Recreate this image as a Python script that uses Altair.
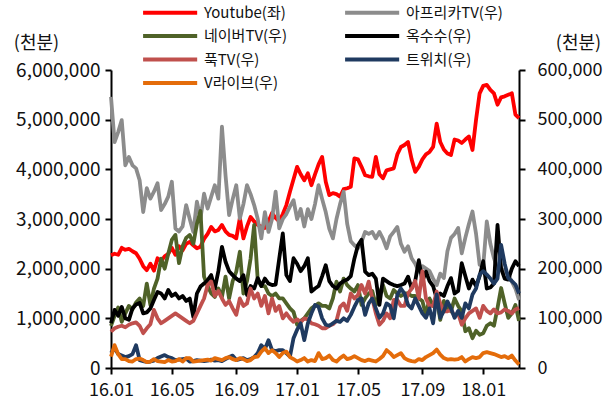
import altair as alt
import pandas as pd

FONT = "Noto Sans CJK KR"

# x-axis ticks (weekly index) and their labels
tick_weeks = [0, 17, 35, 52, 69, 87, 104]
tick_labels = ["16.01", "16.05", "16.09", "17.01", "17.05", "17.09", "18.01"]

series_names = ["Youtube(좌)", "아프리카TV(우)", "네이버TV(우)", "옥수수(우)",
                "푹TV(우)", "트위치(우)", "V라이브(우)"]
series_colors = ["#FF0000", "#8C8C8C", "#4F6228", "#000000",
                 "#C0504D", "#1F3A60", "#E46C0A"]

# legend fills column by column: left column first, then right column
legend_order = ["Youtube(좌)", "네이버TV(우)", "푹TV(우)", "V라이브(우)",
                "아프리카TV(우)", "옥수수(우)", "트위치(우)"]
legend_colors = [series_colors[series_names.index(n)] for n in legend_order]

# weekly viewing time, in thousands of 천분
youtube = [
    2270, 2300, 2280, 2420, 2380, 2400, 2350, 2310, 2200, 2050,
    1970, 2100, 1960, 2210, 2150, 2250, 2300, 2420, 2280, 2450,
    2370, 2500, 2540, 2470, 2410, 2440, 2600, 2700, 2840, 2750,
    2780, 2880, 2750, 2680, 2660, 2610, 3020, 2610, 2850, 3040,
    2950, 2880, 2850, 2820, 2950, 3120, 3020, 2950, 3100, 3280,
    3550, 3800, 4050, 3900, 3780, 3920, 3680, 3900, 4100, 4250,
    3750, 3480, 3520, 3500, 3450, 3600, 3620, 3650, 4220, 4200,
    4050, 3880, 3860, 3850, 4250, 3900, 3820, 3980, 4000, 4020,
    4300, 4450, 4490, 4550, 4200, 3950, 4050, 4200, 4300, 4350,
    4450, 4920, 4550, 4400, 4320, 4290, 4600, 4580, 4530, 4600,
    4660, 4390, 5000, 5530, 5680, 5700, 5600, 5530, 5300, 5450,
    5470, 5500, 5530, 5100, 5030,
]
afreecatv = [
    546, 455, 475, 499, 408, 425, 408, 402, 378, 314,
    362, 341, 355, 372, 318, 330, 345, 375, 281, 275,
    285, 328, 300, 274, 335, 301, 351, 321, 345, 368,
    341, 486, 388, 308, 340, 368, 301, 330, 368, 350,
    328, 300, 261, 314, 274, 300, 355, 281, 300, 310,
    325, 338, 300, 320, 285, 320, 300, 330, 368, 340,
    314, 280, 261, 300, 330, 355, 290, 255, 247, 241,
    254, 274, 270, 274, 261, 274, 260, 241, 265, 274,
    284, 250, 234, 245, 221, 210, 194, 205, 200, 195,
    180, 167, 190, 181, 235, 262, 270, 282, 231, 262,
    290, 315, 270, 208, 205, 295, 250, 221, 200, 200,
    195, 188, 174, 160, 137,
]
navertv = [
    85, 105, 122, 93, 110, 125, 118, 132, 140, 125,
    170, 127, 160, 180, 220, 200, 230, 258, 268, 211,
    245, 262, 268, 250, 290, 316, 184, 165, 150, 143,
    160, 143, 184, 140, 175, 194, 234, 150, 175, 220,
    288, 177, 165, 165, 150, 145, 150, 140, 140, 130,
    120, 113, 87, 95, 100, 110, 120, 125, 130, 125,
    125, 120, 140, 174, 154, 180, 167, 160, 154, 167,
    127, 140, 150, 155, 127, 150, 167, 145, 140, 157,
    150, 145, 150, 150, 145, 145, 140, 135, 107, 140,
    125, 140, 97, 135, 120, 114, 140, 125, 114, 74,
    80, 60, 75, 67, 70, 85, 90, 85, 121, 161,
    130, 101, 110, 127, 95,
]
oksusu = [
    90, 117, 105, 123, 100, 97, 120, 128, 131, 110,
    112, 120, 137, 153, 150, 140, 157, 145, 150, 140,
    145, 135, 140, 103, 150, 164, 170, 177, 187, 160,
    195, 244, 214, 195, 187, 180, 175, 187, 147, 165,
    160, 181, 165, 180, 170, 167, 168, 220, 271, 187,
    175, 221, 210, 195, 205, 221, 154, 160, 165, 185,
    207, 175, 165, 160, 170, 175, 178, 185, 220, 247,
    258, 194, 187, 190, 180, 127, 180, 175, 170, 167,
    165, 167, 170, 184, 160, 175, 217, 175, 194, 175,
    165, 140, 150, 145, 165, 181, 150, 155, 211, 185,
    160, 178, 165, 185, 215, 160, 162, 170, 288, 200,
    180, 178, 200, 215, 205,
]
pooqtv = [
    73, 80, 83, 85, 82, 87, 90, 92, 85, 70,
    80, 88, 117, 100, 90, 95, 100, 105, 110, 105,
    100, 95, 90, 95, 110, 125, 140, 167, 174, 145,
    155, 140, 127, 135, 120, 107, 140, 125, 130, 160,
    140, 150, 125, 145, 110, 140, 115, 125, 100, 110,
    100, 93, 98, 92, 100, 98, 90, 88, 85, 80,
    80, 85, 88, 95, 123, 130, 115, 150, 140, 147,
    167, 150, 174, 140, 110, 87, 95, 110, 100, 137,
    137, 125, 125, 150, 160, 175, 140, 195, 140, 125,
    125, 154, 130, 114, 114, 118, 104, 110, 87, 100,
    110, 115, 120, 101, 125, 115, 110, 118, 110, 112,
    118, 115, 110, 118, 121,
]
twitch = [
    30, 40, 28, 25, 22, 24, 28, 46, 16, 14,
    12, 13, 15, 20, 23, 26, 22, 20, 16, 17,
    18, 19, 13, 14, 16, 15, 14, 15, 17, 15,
    16, 14, 18, 22, 25, 16, 18, 20, 16, 18,
    22, 30, 46, 38, 56, 36, 34, 36, 36, 30,
    23, 60, 77, 90, 56, 90, 110, 127, 123, 100,
    87, 85, 90, 95, 93, 100, 95, 107, 123, 137,
    140, 107, 130, 140, 120, 101, 110, 130, 125, 100,
    147, 160, 150, 127, 120, 140, 125, 110, 101, 120,
    90, 148, 101, 115, 134, 120, 101, 115, 101, 130,
    120, 148, 160, 188, 195, 188, 180, 170, 180, 248,
    210, 181, 175, 168, 150,
]
vlive = [
    23, 46, 28, 18, 18, 14, 13, 18, 19, 16,
    12, 13, 18, 14, 13, 12, 16, 13, 14, 18,
    13, 20, 20, 13, 14, 15, 16, 17, 15, 20,
    18, 16, 20, 22, 18, 16, 20, 18, 14, 16,
    22, 23, 33, 40, 30, 36, 30, 22, 30, 33,
    22, 18, 13, 16, 20, 13, 16, 14, 30, 18,
    20, 25, 16, 13, 20, 25, 18, 20, 24, 20,
    16, 14, 17, 15, 13, 18, 24, 36, 30, 22,
    26, 30, 20, 16, 14, 13, 18, 16, 22, 26,
    30, 37, 27, 20, 17, 18, 17, 18, 22, 13,
    18, 22, 20, 22, 30, 32, 30, 28, 25, 22,
    24, 20, 25, 15, 7,
]

all_series = [youtube, afreecatv, navertv, oksusu, pooqtv, twitch, vlive]

rows = []
for name, vals in zip(series_names, all_series):
    for week, v in enumerate(vals):
        rows.append({"week": week, "series": name, "value": v * 1000})
df = pd.DataFrame(rows)

last_week = len(youtube) - 1
LW = 3.8

label_expr = f"{tick_labels}[indexof({tick_weeks}, datum.value)]"

x_enc = alt.X(
    "week:Q",
    scale=alt.Scale(domain=[0, last_week], nice=False, zero=False),
    axis=alt.Axis(values=tick_weeks, labelExpr=label_expr, title=None,
                  labelPadding=7, labelOverlap=False, labelFlush=False,
                  labelFontSize=18),
)

color_enc = alt.Color(
    "series:N",
    scale=alt.Scale(domain=legend_order, range=legend_colors),
    legend=alt.Legend(
        title=None, orient="none", legendX=30, legendY=-65, columns=2,
        columnPadding=50, rowPadding=6.5, padding=0,
        symbolType="M-1,0H9", symbolSize=117, symbolStrokeWidth=4,
        symbolOpacity=1, labelOffset=48, labelFont=FONT, labelFontSize=15,
        labelColor="#111111",
    ),
)

left_axis = alt.Axis(
    orient="left", values=list(range(0, 6000001, 1000000)), format=",.0f",
    title="(천분)", titleAngle=0, titleX=-75, titleY=-27, titleAlign="center",
    titleBaseline="middle", titleFont=FONT, titleFontSize=18,
    titleFontWeight="normal", titleColor="#111111", labelPadding=5,
    labelFontSize=19,
)
right_axis = alt.Axis(
    orient="right", values=list(range(0, 600001, 100000)), format=",.0f",
    title="(천분)", titleAngle=0, titleX=59, titleY=-27, titleAlign="center",
    titleBaseline="middle", titleFont=FONT, titleFontSize=18,
    titleFontWeight="normal", titleColor="#111111", labelPadding=12,
    labelFontSize=18,
)

base = alt.Chart(df)

left = base.transform_filter(alt.datum.series == series_names[0]).mark_line(
    strokeWidth=LW, strokeJoin="round"
).encode(
    x=x_enc,
    y=alt.Y("value:Q", scale=alt.Scale(domain=[0, 6000000], nice=False), axis=left_axis),
    color=color_enc,
)

right_layers = [
    base.transform_filter(alt.datum.series == name).mark_line(
        strokeWidth=LW, strokeJoin="round"
    ).encode(
        x=x_enc,
        y=alt.Y("value:Q", scale=alt.Scale(domain=[0, 600000], nice=False), axis=right_axis),
        color=color_enc,
    )
    for name in series_names[1:]
]
right = alt.layer(*right_layers)

chart = alt.layer(left, right).resolve_scale(y="independent").properties(
    width=408, height=298,
    autosize=alt.AutoSizeParams(type="none"),
    padding={"left": 111, "top": 70, "right": 87, "bottom": 43},
).configure_view(stroke=None).configure_axis(
    grid=False, domainColor="#000000", domainWidth=2, tickColor="#000000",
    tickWidth=2, tickSize=6, labelFont=FONT, labelColor="#111111",
    labelOverlap=False,
)

chart.save("out.html", embed_options={"renderer": "svg", "actions": False})
